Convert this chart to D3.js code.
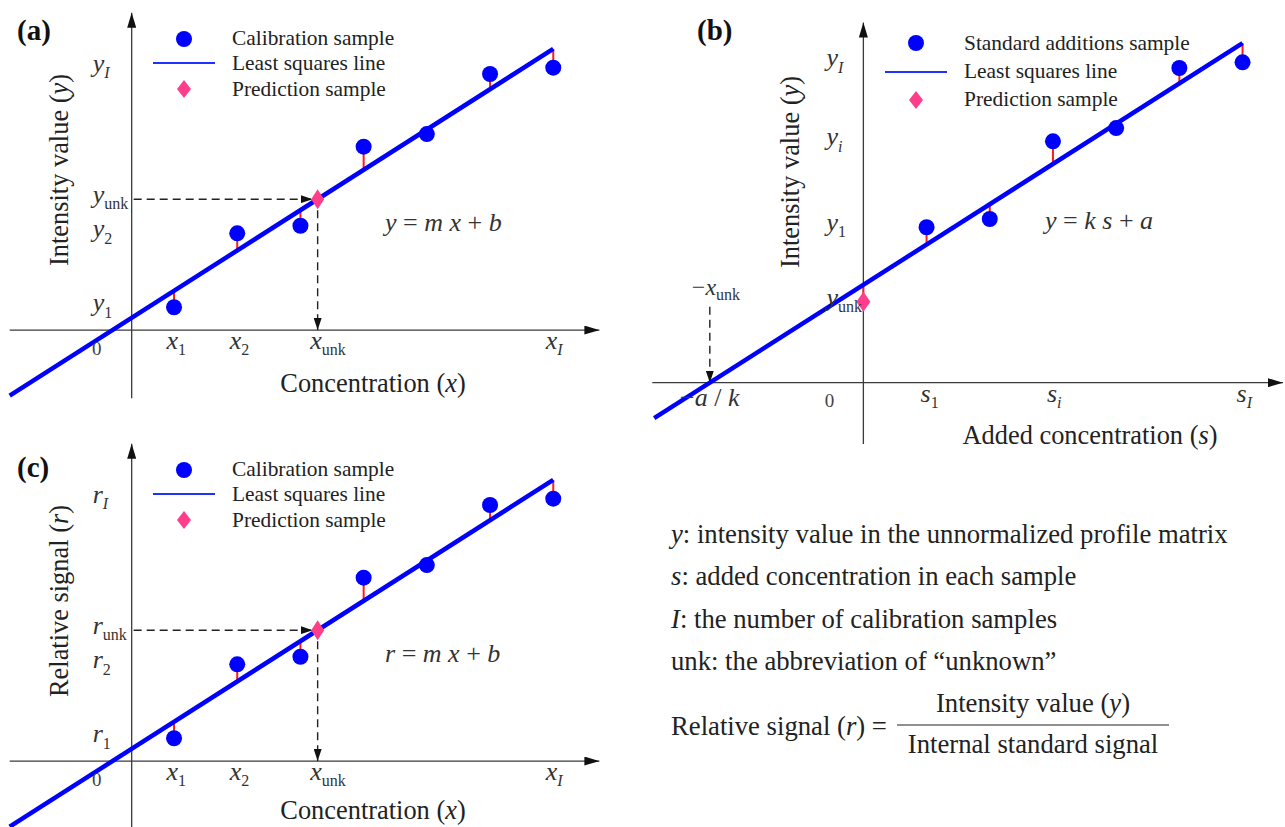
<!DOCTYPE html>
<html>
<head>
<meta charset="utf-8">
<script src="https://cdn.jsdelivr.net/npm/d3@7"></script>
<style>
  body { margin: 0; background: #fff; }
  svg { display: block; font-family: "Liberation Serif", "Times New Roman", serif; }
</style>
</head>
<body>
<div id="chart"></div>
<script>
// data, in arbitrary units

// (a) external calibration: intensity vs concentration
const calConcA = [0.67, 1.67, 2.67, 3.67, 4.67, 5.67, 6.67];
const calIntensityA = [0.36, 1.53, 1.65, 2.90, 3.10, 4.05, 4.15];
const predIntensityA = 2.07;

// (b) standard additions: first sample (s = 0) is the unknown itself
const addedConcB = [0, 1, 2, 3, 4, 5, 6];
const intensityB = [1.28, 2.46, 2.59, 3.82, 4.03, 4.98, 5.07];

// (c) internal standard: relative signal vs concentration
const calConcC = [0.67, 1.67, 2.67, 3.67, 4.67, 5.67, 6.67];
const relSignalC = [0.36, 1.53, 1.65, 2.90, 3.10, 4.05, 4.15];
const predRelSignalC = 2.07;

// tick labels, [letter, subscript]
const xTicksA = [["x", "1"], ["x", "2"], ["x", "unk"], ["x", "I"]];
const yTicksA = [["y", "1"], ["y", "2"], ["y", "unk"], ["y", "I"]];
const xTicksB = [["s", "1"], ["s", "i"], ["s", "I"]];
const yTicksB = [["y", "unk"], ["y", "1"], ["y", "i"], ["y", "I"]];
const yTicksC = [["r", "1"], ["r", "2"], ["r", "unk"], ["r", "I"]];

const legendA = ["Calibration sample", "Least squares line", "Prediction sample"];
const legendB = ["Standard additions sample", "Least squares line", "Prediction sample"];

const notes = [
  [["y", "it"], [": intensity value in the unnormalized profile matrix"]],
  [["s", "it"], [": added concentration in each sample"]],
  [["I", "it"], [": the number of calibration samples"]],
  [["unk: the abbreviation of \u201cunknown\u201d"]]
];

// set up svg
const width = 1285, height = 827;
const svg = d3.select("#chart").append("svg")
  .attr("width", width)
  .attr("height", height);

const ink = "#222", blue = "#0000ff", pink = "#ff3d8b", red = "#ff1a1a";

const defs = svg.append("defs");
function marker(id, len, wid) {
  defs.append("marker").attr("id", id)
    .attr("markerUnits", "userSpaceOnUse")
    .attr("markerWidth", len).attr("markerHeight", wid)
    .attr("refX", len).attr("refY", wid / 2)
    .attr("orient", "auto")
    .append("path")
    .attr("d", `M0,0L${len},${wid / 2}L0,${wid}Z`)
    .attr("fill", "#111");
}
marker("axisArrow", 15, 9);
marker("dashArrow", 12, 8);

// text made of parts: [string, style], style "it" | "bold" | "sub" | "subit"
function rich(g, x, y, parts, size, opts = {}) {
  const t = g.append("text")
    .attr("transform", `translate(${x},${y})${opts.rotate ? " rotate(-90)" : ""}`)
    .attr("font-size", size)
    .attr("fill", opts.fill || ink)
    .attr("text-anchor", opts.anchor || "start");
  let shift = 0;
  parts.forEach(([s, st = ""]) => {
    const target = st.startsWith("sub") ? size * 0.24 : 0;
    const sp = t.append("tspan").attr("dy", target - shift).text(s);
    shift = target;
    if (st.endsWith("it")) sp.attr("font-style", "italic");
    if (st === "bold") sp.attr("font-weight", "bold");
    if (target) sp.attr("font-size", opts.subSize || 16);
  });
  return t;
}

function tickLabel(g, x, y, [main, sub]) {
  const subStyle = /^[A-Za-z]$/.test(sub) ? "subit" : "sub";
  rich(g, x, y, [[main, "it"], [sub, subStyle]], 26, { fill: "#333" });
}

function leastSquares(xs, ys) {
  const mx = d3.mean(xs), my = d3.mean(ys);
  const sxy = d3.sum(xs, (v, i) => (v - mx) * (ys[i] - my));
  const sxx = d3.sum(xs, v => (v - mx) * (v - mx));
  const m = sxy / sxx;
  return { m: m, b: my - m * mx };
}

function axisLine(g, x1, y1, x2, y2) {
  g.append("line")
    .attr("x1", x1).attr("y1", y1).attr("x2", x2).attr("y2", y2)
    .attr("stroke", "#3a3a3a").attr("stroke-width", 1.3)
    .attr("marker-end", "url(#axisArrow)");
}

function dashed(g, x1, y1, x2, y2) {
  g.append("line")
    .attr("x1", x1).attr("y1", y1).attr("x2", x2).attr("y2", y2)
    .attr("stroke", ink).attr("stroke-width", 1.4)
    .attr("stroke-dasharray", "8,5")
    .attr("marker-end", "url(#dashArrow)");
}

function diamond(g, cx, cy, hw, hh) {
  g.append("path")
    .attr("d", `M${cx},${cy - hh}L${cx + hw},${cy}L${cx},${cy + hh}L${cx - hw},${cy}Z`)
    .attr("fill", pink);
}

// red residuals, fitted line, then the samples on top
function fitMarks(g, x, y, xs, ys, fit, xFrom, skipFirst) {
  g.selectAll(".resid").data(d3.zip(xs, ys)).join("line")
    .attr("class", "resid")
    .attr("x1", d => x(d[0])).attr("x2", d => x(d[0]))
    .attr("y1", d => y(d[1])).attr("y2", d => y(fit.m * d[0] + fit.b))
    .attr("stroke", red).attr("stroke-width", 2);

  const xTo = d3.max(xs);
  g.append("line")
    .attr("x1", x(xFrom)).attr("y1", y(fit.m * xFrom + fit.b))
    .attr("x2", x(xTo)).attr("y2", y(fit.m * xTo + fit.b))
    .attr("stroke", blue).attr("stroke-width", 4.5);

  g.selectAll(".pt").data(d3.zip(xs, ys).slice(skipFirst ? 1 : 0)).join("circle")
    .attr("class", "pt")
    .attr("cx", d => x(d[0])).attr("cy", d => y(d[1]))
    .attr("r", 8).attr("fill", blue);
}

function legend(g, labels, cx, rows, textX, baselines) {
  g.append("circle").attr("cx", cx).attr("cy", rows[0]).attr("r", 8).attr("fill", blue);
  g.append("line")
    .attr("x1", cx - 31).attr("x2", cx + 31).attr("y1", rows[1]).attr("y2", rows[1])
    .attr("stroke", "#2030ff").attr("stroke-width", 2);
  diamond(g, cx, rows[2], 7, 9);
  labels.forEach((s, i) => rich(g, textX, baselines[i], [[s]], 21.4));
}

// (a) and (c): calibration with read-off of the unknown
function calibrationPanel(o) {
  const g = svg.append("g").attr("transform", `translate(0,${o.dy})`);
  const x = d3.scaleLinear().domain([-1.93, 7.4]).range([9.7, 599.4]);
  const y = d3.scaleLinear().domain([-1.08, 5.02]).range([398.3, 12.7]);
  const fit = leastSquares(o.conc, o.signal);
  const xUnk = (o.pred - fit.b) / fit.m;
  const x0 = x(0), y0 = y(0);

  axisLine(g, x(-1.93), y0, x(7.4), y0);
  axisLine(g, x0, y(-1.08), x0, y(5.02));

  dashed(g, x0 + 2, y(o.pred), x(xUnk) - 5, y(o.pred));
  dashed(g, x(xUnk), y(o.pred) + 11, x(xUnk), y0);

  fitMarks(g, x, y, o.conc, o.signal, fit, -1.93, false);
  diamond(g, x(xUnk), y(o.pred), 6.5, 10);

  const xAt = [o.conc[0], o.conc[1], xUnk, o.conc[6]];
  o.xTicks.forEach((t, i) => tickLabel(g, x(xAt[i]) - 7.5, y0 + 19, t));
  const yAt = [o.signal[0], o.signal[1], o.pred, o.signal[6]];
  o.yTicks.forEach((t, i) => tickLabel(g, x0 - 39, y(yAt[i]) + 4, t));
  rich(g, x0 - 35, y0 + 25, [["0"]], 19, { anchor: "middle", fill: "#444" });

  rich(g, 17, o.titleY, [[o.title, "bold"]], 29, { fill: "#111" });
  rich(g, 373, o.xTitleY, [["Concentration ("], ["x", "it"], [")"]], 26.4, { anchor: "middle" });
  rich(g, 68, 170, o.yTitle, 26.4, { anchor: "middle", rotate: true });
  rich(g, 385, 231, o.equation, 26, { fill: "#333" });

  legend(g, legendA, 184, [39, 63, 89], 232, [45, 70, 96]);
}

// (b): standard additions, extrapolated to the x intercept
function additionsPanel(o) {
  const g = svg.append("g");
  const x = d3.scaleLinear().domain([-3.34, 6.64]).range([652.3, 1283]);
  const y = d3.scaleLinear().domain([-0.97, 5.7]).range([444, 22.5]);
  const fit = leastSquares(o.conc, o.signal);
  const xInt = -fit.b / fit.m;
  const x0 = x(0), y0 = y(0);

  axisLine(g, x(-3.34), y0, x(6.64), y0);
  axisLine(g, x0, y(-0.97), x0, y(5.7));

  dashed(g, x(xInt), y0 - 76, x(xInt), y0);

  fitMarks(g, x, y, o.conc, o.signal, fit, -3.31, true);
  diamond(g, x(o.conc[0]), y(o.signal[0]), 7, 10);

  const xAt = [o.conc[1], o.conc[3], o.conc[6]];
  o.xTicks.forEach((t, i) => tickLabel(g, x(xAt[i]) - 6, y0 + 19, t));
  const yAt = [o.signal[0], o.signal[1], o.signal[3], o.signal[6]];
  o.yTicks.forEach((t, i) => tickLabel(g, x0 - 37, y(yAt[i]) + 4, t));
  rich(g, x0 - 34, y0 + 24, [["0"]], 19, { anchor: "middle", fill: "#444" });

  rich(g, x(xInt), y0 + 23, [["\u2212"], ["a", "it"], [" / "], ["k", "it"]], 26,
    { anchor: "middle", fill: "#333" });
  rich(g, x(xInt) - 18, y0 - 88, [["\u2212"], ["x", "it"], ["unk", "sub"]], 24, { fill: "#333" });

  rich(g, 697, 40, [["(b)", "bold"]], 29, { fill: "#111" });
  rich(g, 1090, 444, [["Added concentration ("], ["s", "it"], [")"]], 26.4, { anchor: "middle" });
  rich(g, 799, 172, [["Intensity value ("], ["y", "it"], [")"]], 26.4, { anchor: "middle", rotate: true });
  rich(g, 1045, 229, [["y", "it"], [" = "], ["k", "it"], [" "], ["s", "it"], [" + "], ["a", "it"]], 26,
    { fill: "#333" });

  legend(g, legendB, 916, [43, 72, 100], 964, [50, 78, 106]);
}

calibrationPanel({
  dy: 0, titleY: 40, xTitleY: 392, title: "(a)",
  conc: calConcA, signal: calIntensityA, pred: predIntensityA,
  xTicks: xTicksA, yTicks: yTicksA,
  yTitle: [["Intensity value ("], ["y", "it"], [")"]],
  equation: [["y", "it"], [" = "], ["m", "it"], [" "], ["x", "it"], [" + "], ["b", "it"]]
});

additionsPanel({
  conc: addedConcB, signal: intensityB,
  xTicks: xTicksB, yTicks: yTicksB
});

// bottom panel sits against the page edge, so its x title is lifted a little
calibrationPanel({
  dy: 431, titleY: 46, xTitleY: 388, title: "(c)",
  conc: calConcC, signal: relSignalC, pred: predRelSignalC,
  xTicks: xTicksA, yTicks: yTicksC,
  yTitle: [["Relative signal ("], ["r", "it"], [")"]],
  equation: [["r", "it"], [" = "], ["m", "it"], [" "], ["x", "it"], [" + "], ["b", "it"]]
});

// notes and the relative signal definition
const notesG = svg.append("g");
const noteBaselines = [543, 585, 628, 670];
notes.forEach((parts, i) => rich(notesG, 671, noteBaselines[i], parts, 26.7));
rich(notesG, 671, 735, [["Relative signal ("], ["r", "it"], [") ="]], 26.7);
notesG.append("line")
  .attr("x1", 897).attr("x2", 1169).attr("y1", 725).attr("y2", 725)
  .attr("stroke", ink).attr("stroke-width", 1.2);
rich(notesG, 1033, 712, [["Intensity value ("], ["y", "it"], [")"]], 26.7, { anchor: "middle" });
rich(notesG, 1033, 753, [["Internal standard signal"]], 26.7, { anchor: "middle" });
</script>
</body>
</html>
